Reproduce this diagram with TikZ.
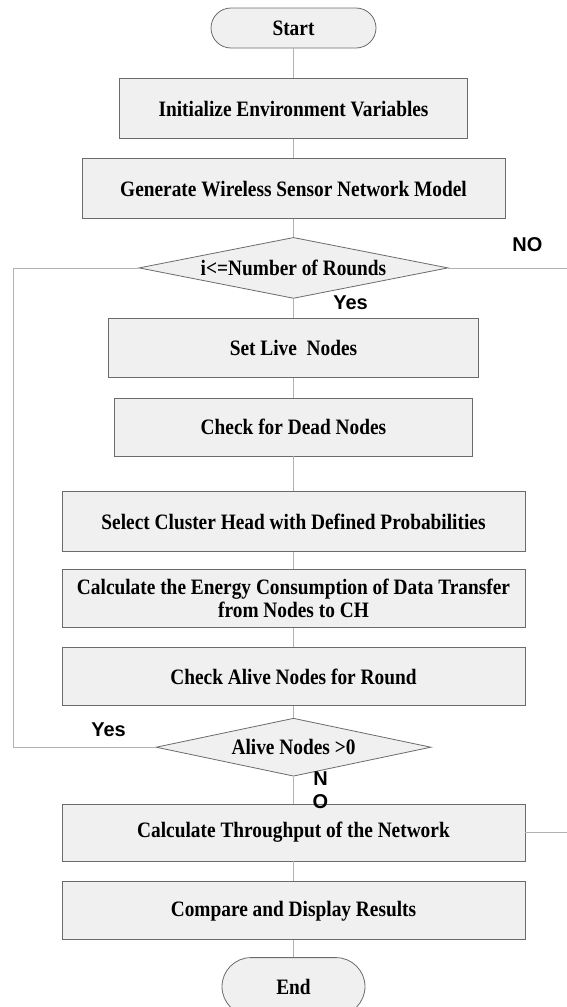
\documentclass[tikz,border=0pt]{standalone}
\usepackage{fontspec}
\setmainfont{Liberation Serif}[FakeStretch=0.88]
\newfontfamily\lblfont{Liberation Sans}
\usetikzlibrary{shapes.geometric, positioning}

\begin{document}
\begin{tikzpicture}[x=1pt, y=1pt, font=\bfseries\fontsize{22}{24}\selectfont]
        \tikzstyle{block} = [rectangle, draw=black!58, fill=black!6, line width=0.8pt, minimum height=60pt, inner sep=0pt, align=center]
        \tikzstyle{term} = [block, rounded corners=20pt]
        \tikzstyle{decision} = [diamond, aspect=6, draw=black!58, fill=black!6, line width=0.8pt, inner sep=0pt]
        \tikzstyle{line} = [draw=black!30, line width=0.7pt]
        \tikzstyle{tag} = [font=\lblfont\bfseries\fontsize{20}{23}\selectfont, inner sep=0pt, align=center]
        \useasboundingbox (0,0) rectangle (567,-1007);
        \coordinate (lft) at (13,0);
        \coordinate (rgt) at (567,0);

        \node (start) at (293.5,-28) [term, minimum width=165pt, minimum height=40pt] {Start};
        \node [below=30pt of start] (init) [block, minimum width=348pt] {Initialize Environment Variables};
        \node [below=19pt of init] (gen) [block, minimum width=423pt] {Generate Wireless Sensor Network Model};
        \node [below=18pt of gen] (rnd) [decision, minimum width=309pt, minimum height=61pt] {i<=Number of Rounds};
        \node [below=19pt of rnd] (live) [block, minimum width=370pt, minimum height=59pt] {Set Live\ \ Nodes};
        \node [below=20pt of live] (dead) [block, minimum width=358pt, minimum height=58pt] {Check for Dead Nodes};
        \node [below=35pt of dead] (sel) [block, minimum width=463pt] {Select Cluster Head with Defined Probabilities};
        \node [below=17pt of sel] (nrg) [block, minimum width=463pt, minimum height=58pt, font=\bfseries\fontsize{22}{23}\selectfont] {Calculate the Energy Consumption of Data Transfer\\ from Nodes to CH};
        \node [below=19pt of nrg] (chk) [block, minimum width=463pt, minimum height=58pt] {Check Alive Nodes for Round};
        \node [below=12pt of chk] (alv) [decision, minimum width=275pt, minimum height=58pt] {Alive Nodes >0};
        \node [below=27pt of alv] (thr) [block, minimum width=463pt, minimum height=57pt] {Calculate Throughput of the Network};
        \node [below=20pt of thr] (cmp) [block, minimum width=463pt, minimum height=58pt] {Compare and Display Results};
        \node [below=17pt of cmp] (fin) [term, minimum width=143pt, minimum height=58pt, rounded corners=29pt] {End};

        \node at ([xshift=79pt, yshift=23.5pt]rnd.east) (no1) [tag] {NO};
        \node at ([xshift=57pt, yshift=-4pt]rnd.south) (yes1) [tag] {Yes};
        \node at ([xshift=-47pt, yshift=17pt]alv.west) (yes2) [tag] {Yes};
        \node at ([xshift=27pt, yshift=-13.5pt]alv.south) (no2) [tag] {N\\O};

        \draw [line] (start) -- (init);
        \draw [line] (init) -- (gen);
        \draw [line] (gen) -- (rnd);
        \draw [line] (rnd) -- (live);
        \draw [line] (live) -- (dead);
        \draw [line] (dead) -- (sel);
        \draw [line] (sel) -- (nrg);
        \draw [line] (nrg) -- (chk);
        \draw [line] (chk) -- (alv);
        \draw [line] (alv) -- (thr);
        \draw [line] (thr) -- (cmp);
        \draw [line] (cmp) -- (fin);
        \draw [line] (alv.west) -| (lft |- rnd.west) -- (rnd.west);
        \draw [line] (rnd.east) -- (rgt |- rnd.east);
        \draw [line] (thr.east) -- (rgt |- thr.east);
    \end{tikzpicture}
\end{document}
